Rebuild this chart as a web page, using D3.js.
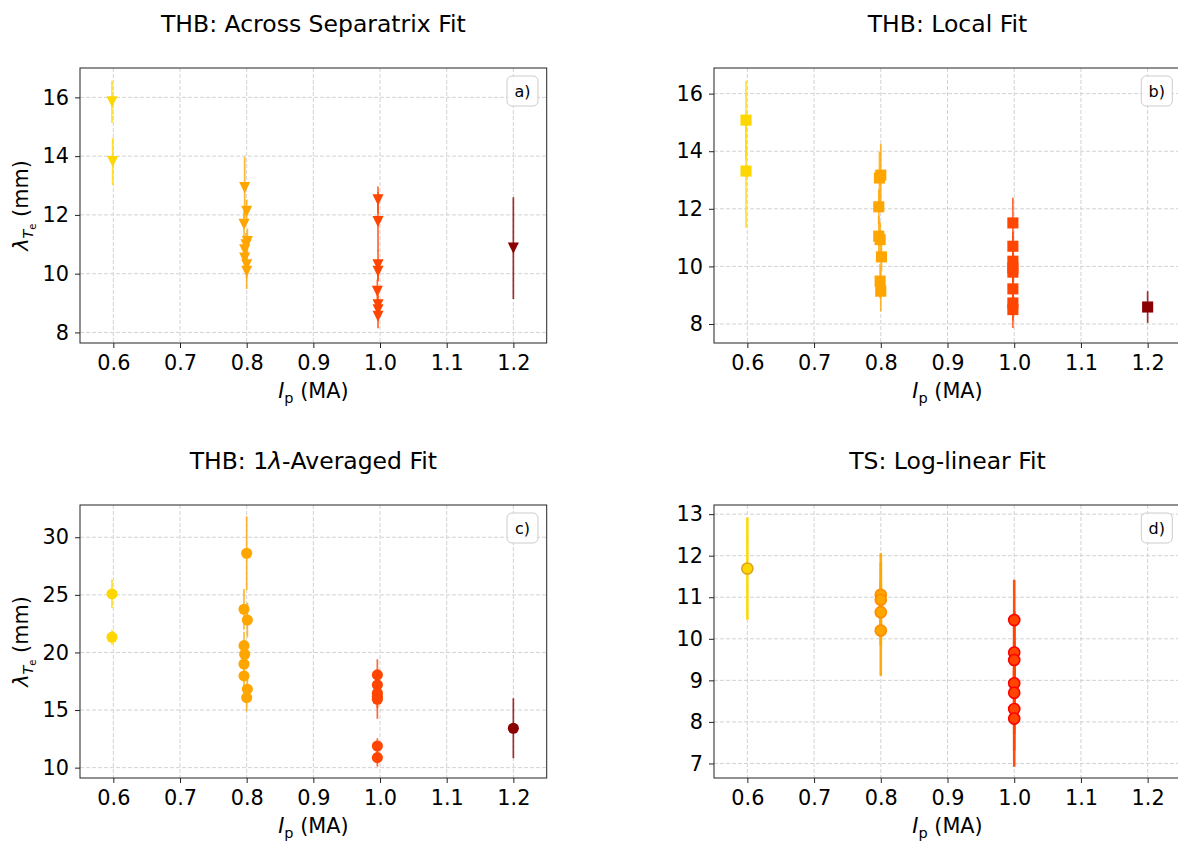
<!DOCTYPE html>
<html>
<head>
<meta charset="utf-8">
<script src="https://cdn.jsdelivr.net/npm/d3@7"></script>
<style>
  body { margin: 0; background: #fff; }
  svg { display: block; }
  text { font-family: "DejaVu Sans", sans-serif; fill: #000; }
</style>
</head>
<body>
<svg id="fig" width="1178" height="842"></svg>
<script>
// ---- shared axis values ----
const ipTicks = [0.6, 0.7, 0.8, 0.9, 1.0, 1.1, 1.2];
const ipColors = { 0.6: "#FFD700", 0.8: "#FFA500", 1.0: "#FF4500", 1.2: "#8B0000" };
const tsEdgeColors = { 0.6: "#DAA520", 0.8: "#FF8C00", 1.0: "#FF0000" };

// ---- a) THB across-separatrix fit ----
const acrossIp  = [0.598, 0.599, 0.797, 0.800, 0.796, 0.801, 0.799, 0.797, 0.797, 0.800, 0.800,
                   0.997, 0.997, 0.997, 0.997, 0.996, 0.997, 0.997, 0.997, 1.200];
const acrossLam = [15.85, 13.82, 12.93, 12.12, 11.68, 11.09, 10.98, 10.81, 10.53, 10.30, 10.08,
                   12.51, 11.77, 10.30, 10.08, 9.40, 8.94, 8.77, 8.55, 10.87];
const acrossErr = [0.72, 0.80, 1.05, 0.40, 0.45, 0.45, 0.40, 0.35, 0.40, 0.45, 0.60,
                   0.46, 1.00, 0.50, 0.35, 0.40, 0.35, 0.35, 0.41, 1.73];
const acrossYTicks = [8, 10, 12, 14, 16];

// ---- b) THB local fit ----
const localIp  = [0.598, 0.598, 0.800, 0.798, 0.797, 0.797, 0.799, 0.801, 0.799, 0.800,
                  0.998, 0.998, 0.998, 0.998, 0.998, 0.998, 0.998, 0.998, 1.200];
const localLam = [15.08, 13.31, 13.17, 13.07, 12.07, 11.05, 10.93, 10.33, 9.49, 9.14,
                  11.51, 10.70, 10.18, 9.95, 9.80, 9.22, 8.73, 8.50, 8.59];
const localErr = [1.37, 1.97, 1.08, 0.90, 0.60, 0.70, 0.60, 0.50, 0.60, 0.70,
                  0.87, 0.50, 0.50, 0.50, 0.50, 0.50, 0.60, 0.64, 0.55];
const localYTicks = [8, 10, 12, 14, 16];

// ---- c) THB 1-lambda averaged fit ----
const avgIp  = [0.598, 0.598, 0.800, 0.796, 0.801, 0.796, 0.797, 0.796, 0.796, 0.801, 0.800,
                0.996, 0.996, 0.996, 0.996, 0.996, 0.996, 0.996, 1.200];
const avgLam = [25.08, 21.32, 28.61, 23.75, 22.82, 20.59, 19.84, 19.00, 17.96, 16.81, 16.08,
                18.05, 17.18, 16.46, 16.17, 15.94, 11.88, 10.87, 13.42];
const avgErr = [1.25, 0.65, 3.20, 1.75, 1.50, 1.20, 1.00, 1.00, 1.00, 1.00, 1.20,
                1.36, 1.00, 1.00, 1.00, 1.70, 0.67, 0.78, 2.60];
const avgYTicks = [10, 15, 20, 25, 30];

// ---- d) Thomson scattering log-linear fit ----
const tsIp  = [0.6, 0.8, 0.8, 0.8, 0.8, 1.0, 1.0, 1.0, 1.0, 1.0, 1.0, 1.0];
const tsLam = [11.69, 11.06, 10.94, 10.64, 10.20, 10.45, 9.67, 9.49, 8.93, 8.70, 8.31, 8.08];
const tsErr = [1.23, 1.00, 0.90, 0.80, 1.09, 0.97, 1.00, 1.00, 1.00, 1.00, 1.00, 1.16];
const tsYTicks = [7, 8, 9, 10, 11, 12, 13];

// ---- layout ----
const FONT_TICK = 20.8, FONT_LABEL = 20.8, FONT_TITLE = 23.5;
const MS = 11.1; // marker size in px

const panels = [
  { tag: "a)", title: [{t: "THB: Across Separatrix Fit"}], ip: acrossIp, lam: acrossLam, err: acrossErr,
    yDomain: [7.64, 17.0], yTicks: acrossYTicks, marker: "tri", ylabel: true,
    box: { x0: 80, x1: 546.7, y0: 68, y1: 343 } },
  { tag: "b)", title: [{t: "THB: Local Fit"}], ip: localIp, lam: localLam, err: localErr,
    yDomain: [7.34, 16.89], yTicks: localYTicks, marker: "square", ylabel: false,
    box: { x0: 714, x1: 1181, y0: 68, y1: 343 } },
  { tag: "c)", title: [{t: "THB: 1"}, {t: "λ", it: true}, {t: "-Averaged Fit"}], ip: avgIp, lam: avgLam, err: avgErr,
    yDomain: [9.1, 32.8], yTicks: avgYTicks, marker: "circle", ylabel: true,
    box: { x0: 80, x1: 546.7, y0: 505, y1: 778 } },
  { tag: "d)", title: [{t: "TS: Log-linear Fit"}], ip: tsIp, lam: tsLam, err: tsErr,
    yDomain: [6.65, 13.22], yTicks: tsYTicks, marker: "edgecircle", ylabel: false,
    box: { x0: 714, x1: 1181, y0: 505, y1: 778 } }
];

const triDown = {
  draw(ctx, size) {
    const h = Math.sqrt(size) / 2;
    ctx.moveTo(-h, -h);
    ctx.lineTo(h, -h);
    ctx.lineTo(0, h);
    ctx.closePath();
  }
};

const groupOf = v => Math.round(v * 5) / 5;
const svg = d3.select("#fig");

panels.forEach(p => {
  const b = p.box;
  const x = d3.scaleLinear().domain([0.55, 1.25]).range([b.x0, b.x1]);
  const y = d3.scaleLinear().domain(p.yDomain).range([b.y1, b.y0]);
  const g = svg.append("g");

  // grid
  const grid = g.append("g").attr("stroke", "#d3d3d3").attr("stroke-width", 1)
    .attr("stroke-dasharray", "4,2").attr("fill", "none");
  grid.selectAll(".gx").data(ipTicks).join("line")
    .attr("x1", d => x(d)).attr("x2", d => x(d)).attr("y1", b.y0).attr("y2", b.y1);
  grid.selectAll(".gy").data(p.yTicks).join("line")
    .attr("x1", b.x0).attr("x2", b.x1).attr("y1", d => y(d)).attr("y2", d => y(d));

  // axes with outward ticks
  const xAxis = d3.axisBottom(x).tickValues(ipTicks).tickFormat(d3.format(".1f"))
    .tickSize(5).tickPadding(7);
  const yAxis = d3.axisLeft(y).tickValues(p.yTicks).tickFormat(d3.format("d"))
    .tickSize(5).tickPadding(6);
  const gx = g.append("g").attr("transform", `translate(0,${b.y1})`).call(xAxis);
  const gy = g.append("g").attr("transform", `translate(${b.x0},0)`).call(yAxis);
  [gx, gy].forEach(a => {
    a.select(".domain").remove();
    a.selectAll(".tick line").attr("stroke", "#222").attr("stroke-width", 1);
    a.selectAll(".tick text").attr("font-size", FONT_TICK)
      .attr("font-family", "DejaVu Sans, sans-serif").attr("fill", "#000");
  });

  // error bars and markers
  const pts = p.ip.map((v, i) => ({ ip: v, lam: p.lam[i], err: p.err[i], grp: groupOf(v) }));
  const clip = "clip-" + p.tag[0];
  svg.append("clipPath").attr("id", clip).append("rect")
    .attr("x", b.x0).attr("y", b.y0).attr("width", b.x1 - b.x0).attr("height", b.y1 - b.y0);
  const data = g.append("g").attr("clip-path", `url(#${clip})`);
  const isTs = p.marker === "edgecircle";

  pts.forEach(d => {
    const c = ipColors[d.grp];
    data.append("line")
      .attr("x1", x(d.ip)).attr("x2", x(d.ip))
      .attr("y1", y(d.lam - d.err)).attr("y2", y(d.lam + d.err))
      .attr("stroke", c).attr("stroke-width", isTs ? 2.6 : 1.7)
      .attr("stroke-opacity", isTs ? 0.95 : 0.8);
  });
  pts.forEach(d => {
    const c = ipColors[d.grp];
    if (p.marker === "tri" || p.marker === "square") {
      const sym = d3.symbol().type(p.marker === "tri" ? triDown : d3.symbolSquare).size(MS * MS);
      data.append("path").attr("d", sym())
        .attr("transform", `translate(${x(d.ip)},${y(d.lam)})`).attr("fill", c);
    } else if (p.marker === "circle") {
      data.append("circle").attr("cx", x(d.ip)).attr("cy", y(d.lam)).attr("r", MS / 2).attr("fill", c);
    } else {
      data.append("circle").attr("cx", x(d.ip)).attr("cy", y(d.lam)).attr("r", MS / 2)
        .attr("fill", c).attr("stroke", tsEdgeColors[d.grp]).attr("stroke-width", 1.6);
    }
  });

  // frame
  g.append("rect").attr("x", b.x0).attr("y", b.y0)
    .attr("width", b.x1 - b.x0).attr("height", b.y1 - b.y0)
    .attr("fill", "none").attr("stroke", "#222").attr("stroke-width", 1);

  // panel tag box
  const bw = 31, bh = 30;
  const bx = b.x1 - 8.7 - bw, by = b.y0 + 8;
  g.append("rect").attr("x", bx).attr("y", by).attr("width", bw).attr("height", bh)
    .attr("rx", 5).attr("fill", "#fff").attr("fill-opacity", 0.8)
    .attr("stroke", "#cccccc").attr("stroke-width", 1);
  g.append("text").attr("x", bx + bw / 2).attr("y", by + bh / 2).attr("dy", "0.36em")
    .attr("text-anchor", "middle").attr("font-size", 16).text(p.tag);

  // title
  const tt = g.append("text").attr("x", (b.x0 + b.x1) / 2).attr("y", b.y0 - 36)
    .attr("text-anchor", "middle").attr("font-size", FONT_TITLE);
  p.title.forEach(s => tt.append("tspan").attr("font-style", s.it ? "italic" : "normal").text(s.t));

  // x label: I_p (MA)
  const xl = g.append("text").attr("x", (b.x0 + b.x1) / 2).attr("y", b.y1 + 55)
    .attr("text-anchor", "middle").attr("font-size", FONT_LABEL);
  xl.append("tspan").attr("font-style", "italic").text("I");
  xl.append("tspan").attr("font-size", 14.5).attr("dy", 4.5).text("p");
  xl.append("tspan").attr("dy", -4.5).text(" (MA)");

  // y label: lambda_{T_e} (mm)
  if (p.ylabel) {
    const yl = g.append("text")
      .attr("transform", `translate(28,${(b.y0 + b.y1) / 2}) rotate(-90)`)
      .attr("text-anchor", "middle").attr("font-size", FONT_LABEL);
    yl.append("tspan").attr("font-style", "italic").text("λ");
    yl.append("tspan").attr("font-style", "italic").attr("font-size", 14.5).attr("dy", 4.5).text("T");
    yl.append("tspan").attr("font-size", 10).attr("dy", 3).text("e");
    yl.append("tspan").attr("dy", -7.5).text(" (mm)");
  }
});
</script>
</body>
</html>
